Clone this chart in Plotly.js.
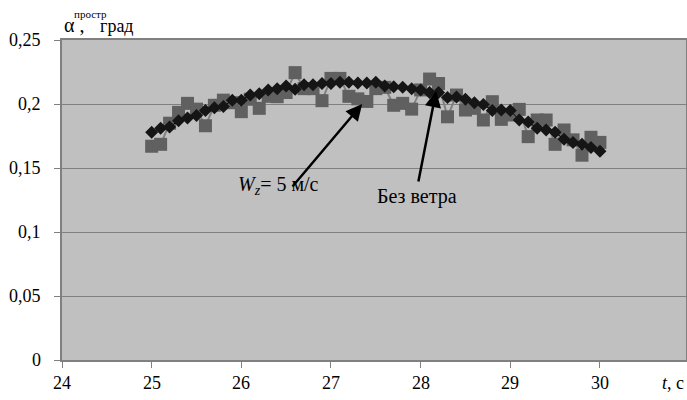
<!DOCTYPE html>
<html>
<head>
<meta charset="utf-8">
<script src="https://cdn.plot.ly/plotly-3.0.1.min.js"></script>
<style>
html,body{margin:0;padding:0;background:#fff;}
#chart{width:687px;height:400px;}
</style>
</head>
<body>
<div id="chart"></div>
<script>
// time, s
const timeS = [25.0,25.1,25.2,25.3,25.4,25.5,25.6,25.7,25.8,25.9,
  26.0,26.1,26.2,26.3,26.4,26.5,26.6,26.7,26.8,26.9,
  27.0,27.1,27.2,27.3,27.4,27.5,27.6,27.7,27.8,27.9,
  28.0,28.1,28.2,28.3,28.4,28.5,28.6,28.7,28.8,28.9,
  29.0,29.1,29.2,29.3,29.4,29.5,29.6,29.7,29.8,29.9,30.0];

// black diamonds (smooth series)
const alphaDiamond = [0.178,0.181,0.182,0.187,0.189,0.191,0.195,0.197,0.198,0.203,
  0.203,0.207,0.208,0.211,0.212,0.214,0.2115,0.215,0.215,0.216,
  0.216,0.217,0.217,0.2165,0.2165,0.217,0.214,0.2135,0.213,0.212,
  0.211,0.209,0.209,0.205,0.2055,0.2037,0.201,0.1997,0.195,0.1953,
  0.195,0.1875,0.186,0.181,0.1797,0.178,0.1724,0.170,0.1685,0.166,0.163];

// gray squares (noisy series)
const alphaSquare = [0.167,0.1685,0.185,0.1935,0.2005,0.196,0.183,0.199,0.203,0.201,
  0.194,0.2037,0.1966,0.206,0.2057,0.209,0.2245,0.212,0.212,0.2026,
  0.220,0.220,0.206,0.204,0.202,0.212,0.213,0.199,0.2005,0.196,
  0.211,0.2195,0.216,0.190,0.207,0.1953,0.1966,0.1875,0.2018,0.188,
  0.1914,0.1958,0.1745,0.1875,0.1875,0.1685,0.1797,0.172,0.160,0.174,0.170];

const xTickVals = [24,25,26,27,28,29,30];
const xTickText = ['24','25','26','27','28','29','30'];
const yTickVals = [0,0.05,0.1,0.15,0.2,0.25];
const yTickText = ['0','0,05','0,1','0,15','0,2','0,25'];

const serif = "Liberation Serif";

const traces = [
  {
    x: timeS, y: alphaSquare, type: 'scatter', mode: 'lines+markers',
    line: {color: '#808080', width: 2},
    marker: {symbol: 'square', size: 13, color: '#606060', line: {width: 0}},
    hoverinfo: 'skip', showlegend: false
  },
  {
    x: timeS, y: alphaDiamond, type: 'scatter', mode: 'lines+markers',
    line: {color: '#000000', width: 1},
    marker: {symbol: 'diamond', size: 10, color: '#151515', line: {width: 0}},
    hoverinfo: 'skip', showlegend: false
  }
];

// tick labels drawn as serif text at the axis positions
const tickAnnotations = []
  .concat(xTickVals.map((v, i) => ({
    xref: 'x', yref: 'paper', x: v, y: -0.072, xanchor: 'center', yanchor: 'middle',
    text: xTickText[i], showarrow: false, font: {family: serif, size: 18, color: '#000'}
  })))
  .concat(yTickVals.map((v, i) => ({
    xref: 'paper', yref: 'y', x: -0.03, y: v, xanchor: 'right', yanchor: 'middle',
    text: yTickText[i], showarrow: false, font: {family: serif, size: 18, color: '#000'}
  })));

const layout = {
  width: 687, height: 400,
  margin: {l: 62, r: 1, t: 40, b: 40, pad: 0},
  paper_bgcolor: '#ffffff',
  plot_bgcolor: '#c0c0c0',
  separators: ', ',
  font: {family: serif, size: 18, color: '#000'},
  xaxis: {
    range: [24, 30.96], tickvals: xTickVals, showticklabels: false,
    showgrid: false, zeroline: false,
    showline: true, mirror: true, linecolor: '#808080', linewidth: 2,
    ticks: 'outside', ticklen: 6, tickcolor: '#808080', tickwidth: 1
  },
  yaxis: {
    range: [0, 0.25], tickvals: yTickVals, showticklabels: false,
    showgrid: true, gridcolor: '#808080', gridwidth: 1,
    zeroline: false,
    showline: true, mirror: true, linecolor: '#808080', linewidth: 2,
    ticks: 'outside', ticklen: 6, tickcolor: '#808080', tickwidth: 1
  },
  annotations: tickAnnotations.concat([
    {xref: 'paper', yref: 'paper', x: 0.0, y: 1.047, xanchor: 'left', yanchor: 'middle',
     text: 'α ,', showarrow: false, font: {family: serif, size: 20, color: '#000'}},
    {xref: 'paper', yref: 'paper', x: 0.016, y: 1.082, xanchor: 'left', yanchor: 'middle',
     text: 'простр', showarrow: false, font: {family: serif, size: 11, color: '#000'}},
    {xref: 'paper', yref: 'paper', x: 0.057, y: 1.045, xanchor: 'left', yanchor: 'middle',
     text: 'град', showarrow: false, font: {family: serif, size: 18, color: '#000'}},
    {xref: 'paper', yref: 'paper', x: 1.0, y: -0.072, xanchor: 'right', yanchor: 'middle',
     text: '<i>t</i>, с', showarrow: false, font: {family: serif, size: 18, color: '#000'}},
    {xref: 'x', yref: 'y', x: 26.42, y: 0.1367, xanchor: 'center', yanchor: 'middle',
     text: '<i>W<sub>z</sub></i>= 5 м/с', showarrow: false, font: {family: serif, size: 20, color: '#000'}},
    {xref: 'x', yref: 'y', x: 27.96, y: 0.1277, xanchor: 'center', yanchor: 'middle',
     text: 'Без ветра', showarrow: false, font: {family: serif, size: 20, color: '#000'}},
    {xref: 'x', yref: 'y', axref: 'x', ayref: 'y', x: 27.348, y: 0.2, ax: 26.557, ay: 0.1344,
     text: '', showarrow: true, arrowhead: 2, arrowsize: 1.3, arrowwidth: 2.5, arrowcolor: '#000', standoff: 0, startstandoff: 0},
    {xref: 'x', yref: 'y', axref: 'x', ayref: 'y', x: 28.173, y: 0.2102, ax: 27.972, ay: 0.1383,
     text: '', showarrow: true, arrowhead: 2, arrowsize: 1.3, arrowwidth: 2.5, arrowcolor: '#000', standoff: 0, startstandoff: 0}
  ])
};

Plotly.newPlot('chart', traces, layout, {displayModeBar: false, staticPlot: true});
</script>
</body>
</html>
